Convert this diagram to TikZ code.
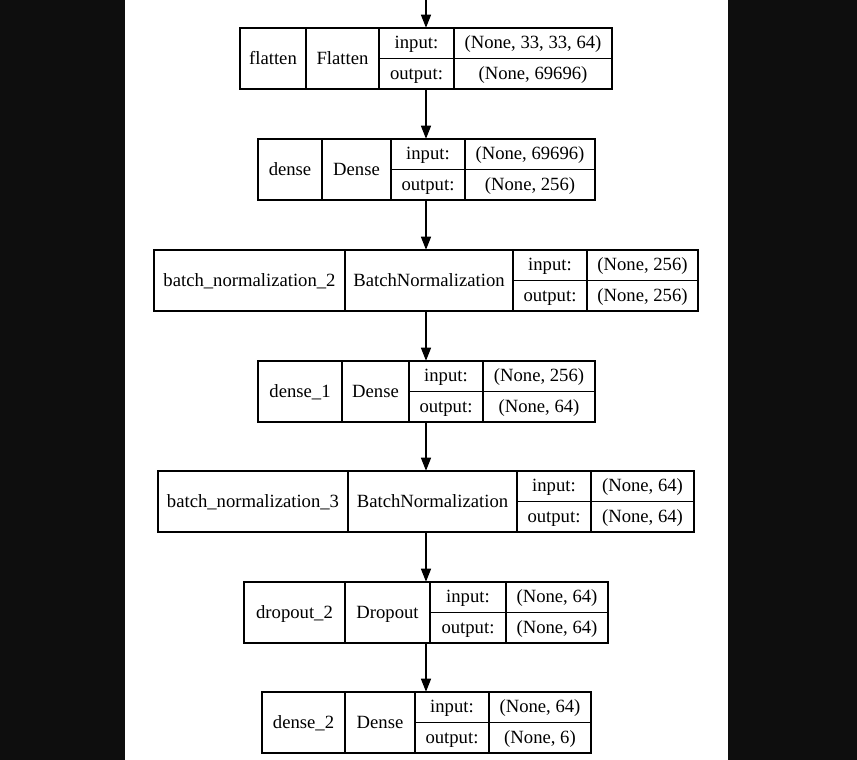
\documentclass[tikz,border=0pt]{standalone}
\usepackage{fontspec}
\setmainfont{Liberation Serif}
\usetikzlibrary{arrows.meta,positioning}
\definecolor{kBack}{RGB}{14,14,14}

\begin{document}
\begin{tikzpicture}[
				x=0.75pt,y=-0.75pt,
				>={Triangle[length=9.75pt,width=7.5pt]},
				cell/.style={
					draw=black,line width=1pt,inner sep=0pt,
					text height=11pt,text depth=2.5pt,
					font=\fontsize{14}{16}\selectfont,text=black
				},
				full/.style={cell,minimum height=45.75pt},
				half/.style={cell,minimum height=22.875pt},
				rec/.style={inner sep=0pt,minimum height=45.75pt},
				flow/.style={->,line width=1pt,black}
				]
				\fill[kBack] (0,0) rectangle (857,760);
				\fill[white] (125,0) rectangle (728,760);
				\useasboundingbox (0,0) rectangle (857,760);

				% one record per layer: name | class | input:/output: | shapes
				\foreach \nm/\yt/\xa/\xb/\xc/\xd/\xe/\lname/\lclass/\lin/\lout in {
					flatten/28/240/306/379/454/612/flatten/Flatten/{(None, 33, 33, 64)}/{(None, 69696)},
					dense/139/258/322/391/465/595/dense/Dense/{(None, 69696)}/{(None, 256)},
					bnorm2/250/154/345/513/587/698/batch\_normalization\_2/BatchNormalization/{(None, 256)}/{(None, 256)},
					dense1/361/258/342/409/483/595/dense\_1/Dense/{(None, 256)}/{(None, 64)},
					bnorm3/471/158/348/517/591/694/batch\_normalization\_3/BatchNormalization/{(None, 64)}/{(None, 64)},
					drop2/582/244/345/430/506/608/dropout\_2/Dropout/{(None, 64)}/{(None, 64)},
					dense2/692/262/345/415/489/591/dense\_2/Dense/{(None, 64)}/{(None, 6)}}{
					\node[rec,minimum width={(\xe-\xa)*0.75pt}] (\nm) at ({(\xa+\xe)/2},{\yt+30.5}) {};
					\node[full,minimum width={(\xb-\xa)*0.75pt}] (\nm-name) at ({(\xa+\xb)/2},{\yt+30.5}) {\lname};
					\node[full,minimum width={(\xc-\xb)*0.75pt}] (\nm-cls) at ({(\xb+\xc)/2},{\yt+30.5}) {\lclass};
					\node[half,minimum width={(\xd-\xc)*0.75pt}] (\nm-ik) at ({(\xc+\xd)/2},{\yt+15.25}) {input:};
					\node[half,minimum width={(\xd-\xc)*0.75pt}] (\nm-ok) at ({(\xc+\xd)/2},{\yt+45.75}) {output:};
					\node[half,minimum width={(\xe-\xd)*0.75pt}] (\nm-iv) at ({(\xd+\xe)/2},{\yt+15.25}) {\lin};
					\node[half,minimum width={(\xe-\xd)*0.75pt}] (\nm-ov) at ({(\xd+\xe)/2},{\yt+45.75}) {\lout};
				}

				\coordinate (feed) at (426,0);
				\draw[flow] (feed) -- (feed |- flatten.north);
				\draw[flow] (feed |- flatten.south) -- (feed |- dense.north);
				\draw[flow] (feed |- dense.south) -- (feed |- bnorm2.north);
				\draw[flow] (feed |- bnorm2.south) -- (feed |- dense1.north);
				\draw[flow] (feed |- dense1.south) -- (feed |- bnorm3.north);
				\draw[flow] (feed |- bnorm3.south) -- (feed |- drop2.north);
				\draw[flow] (feed |- drop2.south) -- (feed |- dense2.north);
			\end{tikzpicture}
\end{document}
